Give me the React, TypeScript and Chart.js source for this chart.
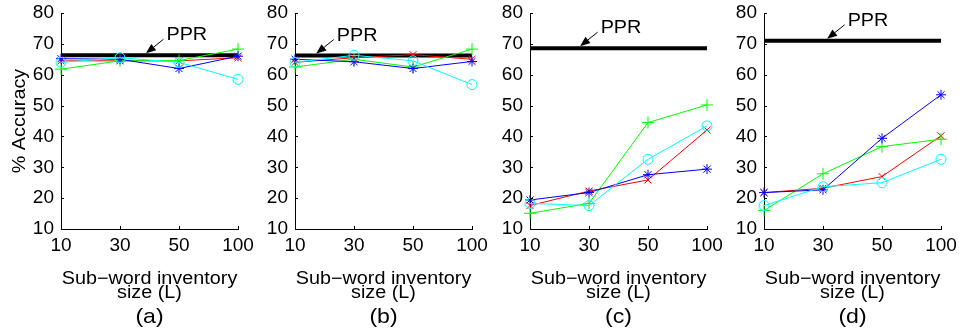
import React, { useEffect, useRef } from 'react';
import { Chart, registerables } from 'chart.js';

Chart.register(...registerables);

// ---------- data ----------
const categories = ['10', '30', '50', '100'];
const panelLetters = ['(a)', '(b)', '(c)', '(d)'];
const yTickMin = 10;
const yTickMax = 80;
const yTickStep = 10;

const pprValues = [66.3, 66.2, 68.6, 71.0];

const redA = [64.5, 64.5, 64.5, 65.5];
const greenA = [61.8, 64.5, 64.6, 68.3];
const blueA = [65.2, 65.0, 62.0, 66.0];
const cyanA = [64.0, 65.5, 64.0, 58.5];

const redB = [64.0, 65.5, 66.5, 65.0];
const greenB = [62.5, 65.0, 62.5, 68.3];
const blueB = [65.0, 64.2, 62.0, 64.3];
const cyanB = [64.0, 66.3, 64.5, 56.8];

const redC = [17.6, 22.3, 25.9, 42.1];
const greenC = [15.1, 18.3, 44.5, 50.2];
const blueC = [19.4, 21.8, 27.6, 29.4];
const cyanC = [18.3, 17.6, 32.6, 43.4];

const redD = [21.8, 23.2, 27.0, 40.2];
const greenD = [16.0, 27.9, 36.7, 39.1];
const blueD = [21.8, 22.7, 39.4, 53.5];
const cyanD = [17.6, 23.7, 25.0, 32.6];

const panelSeries = [
  { red: redA, green: greenA, blue: blueA, cyan: cyanA },
  { red: redB, green: greenB, blue: blueB, cyan: cyanB },
  { red: redC, green: greenC, blue: blueC, cyan: cyanC },
  { red: redD, green: greenD, blue: blueD, cyan: cyanD },
];

// ---------- layout ----------
const FONT = '"Liberation Sans", Arial, Helvetica, sans-serif';
const panelLeft = [0, 234, 469, 703];
const arrowAt = [1.44, 0.36, 0.85, 1.07]; // category-index position of PPR arrow tip
const CANVAS_W = 258;
const CANVAS_H = 332;
const Y_AXIS_W = 61;
const X_AXIS_H = 103;

function stretchedText(ctx: CanvasRenderingContext2D, text: string, x: number, y: number, align: CanvasTextAlign, size: number, rot = 0) {
  ctx.save();
  ctx.translate(x, y);
  if (rot) ctx.rotate(rot);
  ctx.scale(1.1, 1);
  ctx.font = `${size}px ${FONT}`;
  ctx.fillStyle = '#000';
  ctx.textAlign = align;
  ctx.textBaseline = 'alphabetic';
  ctx.fillText(text, 0, 0);
  ctx.restore();
}

const decorPlugin = {
  id: 'decor',
  afterDraw(chart: any, _args: any, opts: any) {
    const { ctx, chartArea: a, scales } = chart;
    const x = scales.x;
    const y = scales.y;
    ctx.save();
    // inward tick marks
    ctx.strokeStyle = '#000';
    ctx.lineWidth = 1;
    ctx.beginPath();
    categories.forEach((_, i) => {
      const px = Math.round(x.getPixelForValue(i)) + 0.5;
      ctx.moveTo(px, a.bottom);
      ctx.lineTo(px, a.bottom - 3);
    });
    y.ticks.forEach((t: any) => {
      const py = Math.round(y.getPixelForValue(t.value)) + 0.5;
      ctx.moveTo(a.left, py);
      ctx.lineTo(a.left + 3, py);
    });
    ctx.stroke();

    // PPR text arrow
    const tipX = x.getPixelForValue(opts.arrowAt);
    const tipY = y.getPixelForValue(opts.ppr) - 2;
    const tailX = tipX + 17.5;
    const tailY = tipY - 14;
    const dx = tipX - tailX;
    const dy = tipY - tailY;
    const len = Math.hypot(dx, dy);
    const ux = dx / len;
    const uy = dy / len;
    const headLen = 10;
    const headHalf = 4;
    const bx = tipX - ux * headLen;
    const by = tipY - uy * headLen;
    ctx.beginPath();
    ctx.moveTo(tailX, tailY);
    ctx.lineTo(bx, by);
    ctx.stroke();
    ctx.fillStyle = '#000';
    ctx.beginPath();
    ctx.moveTo(tipX, tipY);
    ctx.lineTo(bx - uy * headHalf, by + ux * headHalf);
    ctx.lineTo(bx + uy * headHalf, by - ux * headHalf);
    ctx.closePath();
    ctx.fill();
    stretchedText(ctx, 'PPR', tailX + 3, tailY + 1, 'left', 18);

    // axis titles
    const cx = (a.left + a.right) / 2;
    stretchedText(ctx, 'Sub\u2212word inventory', cx, a.bottom + 55, 'center', 18);
    stretchedText(ctx, 'size (L)', cx, a.bottom + 69, 'center', 18);
    stretchedText(ctx, opts.letter, cx, a.bottom + 94, 'center', 21);
    if (opts.showYTitle) {
      stretchedText(ctx, '% Accuracy', a.left - 36, (a.top + a.bottom) / 2, 'center', 18, -Math.PI / 2);
    }
    ctx.restore();
  },
};

function Panel({ index }: { index: number }) {
  const ref = useRef<HTMLCanvasElement | null>(null);
  useEffect(() => {
    if (!ref.current) return;
    const s = panelSeries[index];
    const line = (data: number[], color: string, style: string, radius: number) => ({
      data,
      borderColor: color,
      backgroundColor: 'rgba(0,0,0,0)',
      borderWidth: 1,
      pointStyle: style,
      pointRadius: radius,
      pointBorderColor: color,
      pointBackgroundColor: 'rgba(0,0,0,0)',
      pointBorderWidth: 1,
      fill: false,
      tension: 0,
    });
    const chart = new Chart(ref.current, {
      type: 'line',
      data: {
        labels: categories,
        datasets: [
          line(s.cyan, '#00FFFF', 'circle', 5),
          line(s.blue, '#0000FF', 'star', 5),
          line(s.green, '#00FF00', 'cross', 6),
          line(s.red, '#FF0000', 'crossRot', 5),
          {
            data: categories.map(() => pprValues[index]),
            borderColor: '#000',
            borderWidth: 4,
            pointRadius: 0,
            fill: false,
            borderCapStyle: 'butt',
          },
        ] as any,
      },
      options: {
        responsive: false,
        animation: false,
        devicePixelRatio: 1,
        layout: { padding: { left: 0, top: 13, right: CANVAS_W - Y_AXIS_W - 177, bottom: 0 } },
        plugins: {
          legend: { display: false },
          tooltip: { enabled: false },
          decor: { arrowAt: arrowAt[index], ppr: pprValues[index], letter: panelLetters[index], showYTitle: index === 0 },
        } as any,
        scales: {
          x: {
            type: 'category',
            offset: false,
            grid: { display: false, drawTicks: false },
            border: { display: true, color: '#000', width: 1 },
            ticks: { color: '#000', font: { family: FONT, size: 19 }, padding: 5, maxRotation: 0, autoSkip: false },
            afterFit: (scale: any) => {
              scale.height = X_AXIS_H;
              scale.paddingLeft = 0;
              scale.paddingRight = 0;
            },
          },
          y: {
            min: yTickMin,
            max: yTickMax,
            grid: { display: false, drawTicks: false },
            border: { display: true, color: '#000', width: 1 },
            ticks: { stepSize: yTickStep, color: '#000', font: { family: FONT, size: 19 }, padding: 7 },
            afterFit: (scale: any) => {
              scale.width = Y_AXIS_W;
              scale.paddingTop = 0;
              scale.paddingBottom = 0;
            },
          },
        },
      } as any,
      plugins: [decorPlugin as any],
    });
    return () => chart.destroy();
  }, [index]);
  return (
    <canvas
      ref={ref}
      width={CANVAS_W}
      height={CANVAS_H}
      style={{ position: 'absolute', left: panelLeft[index], top: 0, width: CANVAS_W, height: CANVAS_H }}
    />
  );
}

export default function App() {
  return (
    <div style={{ position: 'absolute', left: 0, top: 0, width: 959, height: 332, background: '#fff', overflow: 'hidden' }}>
      {[0, 1, 2, 3].map((i) => (
        <Panel key={i} index={i} />
      ))}
    </div>
  );
}
